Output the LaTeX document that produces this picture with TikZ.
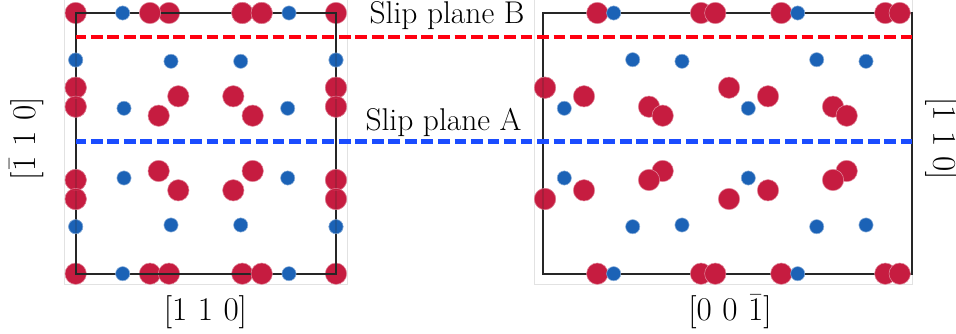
\documentclass[tikz,border=0pt]{standalone}
\definecolor{atomred}{HTML}{C61C40}
\definecolor{atomblue}{HTML}{1B62B6}
\definecolor{framegray}{HTML}{E2E2E2}
\definecolor{planered}{HTML}{FF0010}
\definecolor{planeblue}{HTML}{1A4CFF}
\tikzset{
  px/.style={x=0.75pt,y=-0.75pt},
  redatom/.style={fill=atomred,draw=atomred!50,line width=0.4pt},
  blueatom/.style={fill=atomblue,draw=atomblue!50,line width=0.4pt},
  cell/.style={draw=black!85,line width=1.6pt,line join=miter},
  panel/.style={draw=framegray,line width=0.7pt},
  slip/.style={line width=3.3pt,dash pattern=on 8.8pt off 3.6pt,dash phase=1.3pt},
  lab/.style={font=\fontsize{23.6}{26}\selectfont,inner sep=0pt},
  axis/.style={font=\fontsize{26}{30}\selectfont,inner sep=0pt}
}
\newcommand{\reds}[1]{\foreach \a/\b in {#1} {\path[redatom] (\a,\b) circle[radius=10.7];}}
\newcommand{\blues}[1]{\foreach \a/\b in {#1} {\path[blueatom] (\a,\b) circle[radius=7.1];}}
\begin{document}
\begin{tikzpicture}[px]
\useasboundingbox (0,0) rectangle (956,334);
\fill[white] (0,0) rectangle (956,334);
% panel frames
\draw[panel] (64.5,0) -- (64.5,284) -- (347.5,284) -- (347.5,0);
\draw[panel] (534.5,0) -- (534.5,284) -- (912.5,284) -- (912.5,0);
% left panel, atoms under the cell outline
\reds{75.7/13,169/13,242.3/13,261.7/13,336/13,75.7/87.7,75.7/106.7,336/87.7,336/106.7,178.3/96.3,233.3/96.3,158.7/115.7,252.7/115.7,158.7/171,252.7/171,178.3/190.3,233.3/190.3,75.7/180,75.7/199,336/180,336/199,75.7/273.7,150/273.7,169/273.7,242.3/273.7,336/273.7}
\blues{75.7/60,336/60,171/61.3,240.7/61.3,124/108.3,287.7/108.3,124/178,287.7/178,75.7/226.7,336/226.7,171/225,240.7/225}
% right panel, atoms
\reds{545/87.7,584/96.3,729/87.7,768/96.3,649/106.7,662.7/115.7,833/106.7,846.7/115.7,545/199,584/190.3,729/199,768/190.3,662.7/171,649/180,846.7/171,833/180}
\blues{632.7/59.7,682/61.3,816.7/59.7,866/61.3,564.3/108.3,748.3/108.3,564.3/178,748.3/178,632.7/226.7,682/225,816.7/226.7,866/225}
% cell outlines
\draw[cell] (75.7,13) rectangle (336,273.7);
\draw[cell] (543.3,13) rectangle (911.7,273.7);
% atoms above the outline
\begin{scope}[opacity=0.8]
\reds{75.7/87.7,75.7/106.7,336/87.7,336/106.7,75.7/180,75.7/199,336/180,336/199,545/87.7,545/199}
\blues{75.7/60,336/60,75.7/226.7,336/226.7}
\end{scope}
\reds{150/13,242.3/13,261.7/13,261.7/273.7,597.3/13,701/13,715.3/13,781.3/13,885.3/13,899.7/13,597.3/273.7,701/273.7,715.3/273.7,781.3/273.7,885.3/273.7,899.7/273.7}
\blues{122.7/13,289/13,122.7/273.7,289/273.7,613.7/13,797.7/13,613.7/273.7,797.7/273.7}
% slip planes
\draw[slip,planered] (76,37) -- (911.5,37);
\draw[slip,planeblue] (76,141.7) -- (911.5,141.7);
% labels
\node[lab,anchor=base] (planeB) at (447,24) {Slip plane B};
\node[lab,anchor=base] (planeA) at (443.5,130.7) {Slip plane A};
\node[axis] (axisL) at (205.5,312) {$[1\ 1\ 0]$};
\node[axis] (axisR) at (730,312) {$[0\ 0\ \bar{1}]$};
\node[axis,rotate=90] (axisV) at (26.3,138.7) {$[\bar{1}\ 1\ 0]$};
\node[axis,rotate=-90] (axisW) at (941.6,138.7) {$[1\ 1\ 0]$};
\end{tikzpicture}
\end{document}
